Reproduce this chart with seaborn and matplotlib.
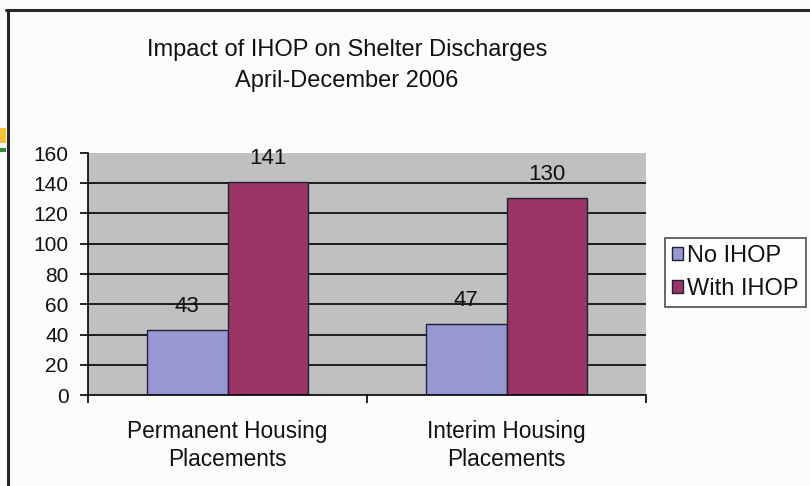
import matplotlib
matplotlib.use("Agg")
import matplotlib.pyplot as plt
from matplotlib.patches import Rectangle
from matplotlib.lines import Line2D
import pandas as pd
import seaborn as sns

# Chart data
categories = ["Permanent Housing\nPlacements", "Interim Housing\nPlacements"]
series_names = ["No IHOP", "With IHOP"]
no_ihop = [43, 47]
with_ihop = [141, 130]
y_ticks = [0, 20, 40, 60, 80, 100, 120, 140, 160]
title_lines = ["Impact of IHOP on Shelter Discharges", "April-December 2006"]

colors = ["#9797D2", "#9C3365"]
plot_bg = "#C0C0C0"
fig_bg = "#FCFCFC"

df = pd.DataFrame({
    "category": categories * 2,
    "series": [series_names[0]] * 2 + [series_names[1]] * 2,
    "value": no_ihop + with_ihop,
})

sns.set_theme(style="white")
plt.rcParams["font.family"] = ["Liberation Sans", "DejaVu Sans"]

W, H = 810, 486
fig = plt.figure(figsize=(W / 100, H / 100), dpi=100, facecolor=fig_bg)

# plot area in pixel coordinates
left, right, top, bottom = 88, 646, 153, 395
ax = fig.add_axes([left / W, 1 - bottom / H, (right - left) / W, (bottom - top) / H])
ax.set_facecolor(plot_bg)

sns.barplot(
    data=df, x="category", y="value", hue="series",
    order=categories, hue_order=series_names,
    palette=colors, saturation=1, width=0.577,
    edgecolor="#20203a", linewidth=1.0, ax=ax,
)

ax.set_xlim(-0.5, 1.5)
ax.set_ylim(y_ticks[0], y_ticks[-1])
ax.set_yticks(y_ticks)
ax.set_yticklabels([str(t) for t in y_ticks])

# horizontal gridlines below the top of the scale
for t in y_ticks[1:-1]:
    ax.axhline(t, color="black", lw=1.2, zorder=0.5)

# group boundaries as major ticks, category names as minor tick labels
ax.set_xticks([-0.5, 0.5, 1.5])
ax.set_xticklabels(["", "", ""])
ax.set_xticks([0, 1], minor=True)
ax.set_xticklabels(categories, minor=True, fontsize=16.3, color="#111111",
                   linespacing=1.25)
ax.tick_params(axis="x", which="minor", length=0, pad=18)
ax.tick_params(axis="x", which="major", direction="out", length=6, width=1.2,
               color="black", bottom=True)
ax.tick_params(axis="y", direction="out", length=6, width=1.2, color="black",
               left=True, labelsize=15, labelcolor="#111111", pad=8)
ax.set_xlabel("")
ax.set_ylabel("")

for side in ["top", "right"]:
    ax.spines[side].set_visible(False)
for side in ["left", "bottom"]:
    ax.spines[side].set_visible(True)
    ax.spines[side].set_color("black")
    ax.spines[side].set_linewidth(1.2)

# value labels above each bar
for cont in ax.containers:
    ax.bar_label(cont, labels=[f"{v:g}" for v in cont.datavalues],
                 padding=9.5, fontsize=16, color="#111111")

# legend
handles, labels = ax.get_legend_handles_labels()
if ax.get_legend() is not None:
    ax.get_legend().remove()
leg = fig.legend(
    handles, labels, loc="center left",
    bbox_to_anchor=(665 / W, 1 - 272.5 / H),
    bbox_transform=fig.transFigure,
    fontsize=17, frameon=True, fancybox=False, shadow=False,
    handlelength=0.45, handleheight=0.45, handletextpad=0.2,
    labelspacing=0.45, borderpad=0.3, borderaxespad=0,
)
leg.get_frame().set_edgecolor("#222222")
leg.get_frame().set_linewidth(1.2)
leg.get_frame().set_facecolor("white")
for t in leg.get_texts():
    t.set_color("#111111")

# two-line title
fig.text(347 / W, 1 - 39 / H, "\n".join(title_lines), ha="center", va="top",
         fontsize=17, color="#111111", linespacing=1.5, multialignment="center")

# outer frame of the chart
fig.add_artist(Line2D([6 / W, 1], [1 - 10.5 / H, 1 - 10.5 / H],
                      transform=fig.transFigure, color="#262626", lw=2.2))
fig.add_artist(Line2D([7.5 / W, 7.5 / W], [0, 1 - 10.5 / H],
                      transform=fig.transFigure, color="#262626", lw=2.2))

# coloured page edge at the far left
fig.add_artist(Rectangle((0, 1 - 143 / H), 6 / W, 15 / H, transform=fig.transFigure,
                         facecolor="#F2C33A", edgecolor="none"))
fig.add_artist(Rectangle((0, 1 - 152 / H), 6 / W, 4 / H, transform=fig.transFigure,
                         facecolor="#2E8B2E", edgecolor="none"))

fig.savefig("out.png", dpi=100, facecolor=fig_bg)
